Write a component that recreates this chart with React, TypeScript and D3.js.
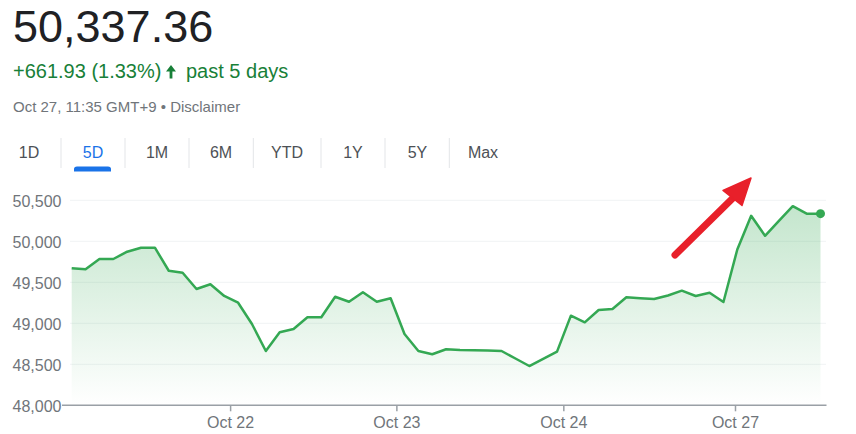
import React from "react";
import * as d3 from "d3";

// ---- data ----
const values: number[] = [
  49671, 49659, 49784, 49784, 49873, 49922, 49922, 49641, 49617, 49418,
  49476, 49333, 49251, 48991, 48662, 48890, 48930, 49073, 49073, 49324,
  49263, 49378, 49263, 49305, 48870, 48662, 48622, 48683, 48674, 48671,
  48668, 48662, 48571, 48479, 48567, 48654, 49093, 49012, 49162, 49174,
  49317, 49305, 49296, 49339, 49398, 49333, 49373, 49260, 49900, 50311,
  50067, 50248, 50428, 50337, 50337,
];
const xTickLabels: string[] = ["Oct 22", "Oct 23", "Oct 24", "Oct 27"];
const xTickIndex: number[] = [11.46, 23.45, 35.49, 47.87];
const yTicks: number[] = [48000, 48500, 49000, 49500, 50000, 50500];
const tabs: string[] = ["1D", "5D", "1M", "6M", "YTD", "1Y", "5Y", "Max"];
const tabCenters: number[] = [29, 93, 157, 221, 287, 353, 417.5, 483];
const tabSeparators: number[] = [61, 125, 189, 253.3, 321, 385, 449.3];
const activeTab = "5D";
const priceText = "50,337.36";
const changeText = "+661.93 (1.33%)";
const periodText = "past 5 days";
const dateText = "Oct 27, 11:35 GMT+9 • Disclaimer";

const FONT = "'Liberation Sans', Arial, sans-serif";
const GREEN = "#34a853";
const GRAY = "#70757a";

export default function App() {
  const x = d3.scaleLinear().domain([0, values.length - 1]).range([71.7, 820.5]);
  const y = d3.scaleLinear().domain([48000, 50500]).range([405.3, 200.3]);
  const pts = values.map((v, i) => [i, v] as [number, number]);
  const line = d3.line<[number, number]>().x((d) => x(d[0])).y((d) => y(d[1]));
  const area = d3
    .area<[number, number]>()
    .x((d) => x(d[0]))
    .y0(y(48000))
    .y1((d) => y(d[1]));
  const fmt = d3.format(",");
  const last = pts[pts.length - 1];

  return (
    <svg
      width={856}
      height={434}
      style={{ position: "absolute", left: 0, top: 0, background: "#fff" }}
      fontFamily={FONT}
    >
      <defs>
        <linearGradient id="fillGrad" gradientUnits="userSpaceOnUse" x1="0" y1="200" x2="0" y2="405">
          <stop offset="0" stopColor={GREEN} stopOpacity={0.3} />
          <stop offset="1" stopColor={GREEN} stopOpacity={0} />
        </linearGradient>
      </defs>
      {/* header */}
      <text x={13} y={42} fontSize={45} fill="#202124">{priceText}</text>
      <text x={13} y={78} fontSize={20} fill="#188038">{changeText}</text>
      <path d="M166 71.5 L171 65 L176 71.5 Z M169.6 70 H172.4 V78.5 H169.6 Z" fill="#188038" />
      <text x={186} y={78} fontSize={20} fill="#188038">{periodText}</text>
      <text x={13} y={112} fontSize={15} fill={GRAY}>{dateText}</text>

      {/* tabs */}
      {tabs.map((t, i) => (
        <text
          key={t}
          x={tabCenters[i]}
          y={158}
          fontSize={16}
          textAnchor="middle"
          fill={t === activeTab ? "#1a73e8" : "#4d5156"}
        >
          {t}
        </text>
      ))}
      {tabSeparators.map((s) => (
        <line key={s} x1={s} x2={s} y1={138} y2={168} stroke="#e3e5e8" strokeWidth={1} />
      ))}
      <path
        d={`M74 171.5 V169 Q74 166.5 77 166.5 H108 Q111 166.5 111 169 V171.5 Z`}
        fill="#1a73e8"
      />

      {/* grid */}
      {yTicks.slice(1).map((t) => (
        <line key={t} x1={70} x2={826} y1={y(t)} y2={y(t)} stroke="#f1f3f4" strokeWidth={1} />
      ))}
      {yTicks.map((t) => (
        <text
          key={"l" + t}
          x={61.5}
          y={y(t) + 1}
          fontSize={16}
          textAnchor="end"
          dominantBaseline="central"
          fill={GRAY}
        >
          {fmt(t)}
        </text>
      ))}

      {/* area & line */}
      <path d={area(pts) || ""} fill="url(#fillGrad)" />
      <path d={line(pts) || ""} fill="none" stroke={GREEN} strokeWidth={2.5} strokeLinejoin="round" />
      <circle cx={x(last[0])} cy={y(last[1])} r={4.5} fill={GREEN} />

      {/* x axis */}
      <line x1={62} x2={826.5} y1={y(48000)} y2={y(48000)} stroke="#9aa0a6" strokeWidth={1.5} />
      {xTickIndex.map((ti, i) => (
        <g key={xTickLabels[i]}>
          <line x1={x(ti)} x2={x(ti)} y1={y(48000)} y2={y(48000) + 6} stroke="#9aa0a6" strokeWidth={1.5} />
          <text
            x={x(ti)}
            y={428}
            fontSize={16}
            textAnchor="middle"
            fill={GRAY}
          >
            {xTickLabels[i]}
          </text>
        </g>
      ))}

      {/* red annotation arrow */}
      <line x1={675} y1={255} x2={735} y2={196} stroke="#e8202a" strokeWidth={7} strokeLinecap="round" />
      <path d="M723 190.5 L751 178 L742 205.5 Z" fill="#e8202a" stroke="#e8202a" strokeWidth={1.5} strokeLinejoin="round" />
    </svg>
  );
}
